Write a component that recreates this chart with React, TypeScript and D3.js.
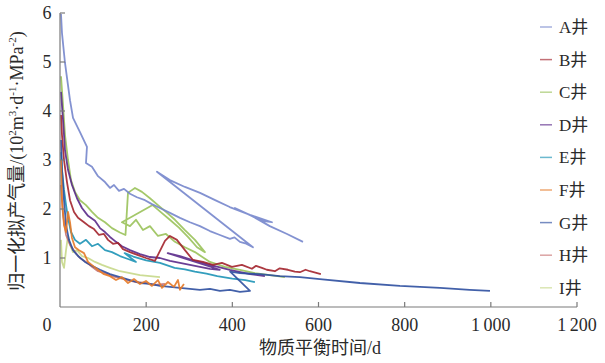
import React from "react";
import * as d3 from "d3";

type P = [number, number];

const wells = ["A井", "B井", "C井", "D井", "E井", "F井", "G井", "H井", "I井"];
const colors = ["#7686cc", "#a3242c", "#9ac25a", "#5a2a8a", "#1d94b6", "#e57a28", "#2d4fa0", "#c77272", "#c6d88a"];

const xTicks = [200, 400, 600, 800, 1000, 1200];
const xTickLabels = ["200", "400", "600", "800", "1\u2009000", "1\u2009200"];
const yTicks = [1, 2, 3, 4, 5, 6];

const wellA: P[] = [
  [2.3, 5.98], [4.6, 5.59], [11.6, 4.98], [23.2, 4.22], [30.2, 3.86], [46.4, 3.57], [62.6, 3.27], [60.3, 2.94],
  [74.2, 2.86], [88.2, 2.67], [104.4, 2.55], [116, 2.43], [125.3, 2.49], [136.9, 2.37], [148.5, 2.41], [162.4, 2.31],
  [178.6, 2.24], [197.2, 2.18], [213.4, 2.1], [232, 2.02], [255.2, 1.92], [278.4, 1.82], [301.6, 1.73], [324.8, 1.65],
  [348, 1.55], [371.2, 1.47], [394.4, 1.39], [405, 1.42], [417.6, 1.33], [430, 1.3], [447.8, 1.22],
  [225, 2.76], [255, 2.59], [290, 2.45], [325, 2.33], [360, 2.18], [394, 2.04], [441, 1.88], [492, 1.73], [469, 1.76],
  [406, 2.02], [445, 1.86], [487, 1.65], [527, 1.49], [564, 1.33],
];

const wellB: P[] = [
  [2.3, 3.92], [4.6, 3.51], [9.3, 3.0], [16.2, 2.55], [23.2, 2.18], [32.5, 1.94], [41.8, 1.82], [55.7, 1.73],
  [67.3, 1.65], [78.9, 1.59], [90.5, 1.47], [102, 1.49], [111.4, 1.37], [123, 1.29], [134.6, 1.31], [146.2, 1.18],
  [162.4, 1.12], [181, 1.06], [199.5, 1.0], [220.4, 0.94], [243.6, 1.35], [255.2, 1.45], [271.4, 1.37], [290, 1.16],
  [308.6, 0.96], [331.8, 0.92], [355, 0.86], [375.8, 0.9], [399, 0.82], [422.2, 0.86], [445.4, 0.78], [455, 0.84],
  [468.6, 0.8], [480, 0.76], [498.8, 0.73], [510, 0.79], [529, 0.76], [545, 0.72], [556.8, 0.71], [570, 0.76],
  [580, 0.73], [605.5, 0.67],
];

const wellC: P[] = [
  [2.3, 4.71], [7, 4.12], [11.6, 3.51], [18.6, 3.0], [25.5, 2.59], [34.8, 2.35], [46.4, 2.18], [60.3, 2.08],
  [74.2, 1.94], [88.2, 1.82], [104.4, 1.73], [120.6, 1.61], [139, 1.52], [152, 1.47],
  [157.8, 2.33], [166, 2.38], [174, 2.43], [190.2, 2.35], [208.8, 2.22], [227.4, 2.08],
  [245.9, 1.94], [266.8, 1.78], [290, 1.57], [313.2, 1.37], [336.4, 1.12],
  [318, 1.22], [298, 1.42], [276, 1.62], [255, 1.78], [236, 1.92], [215, 2.08],
  [143.8, 1.73], [162.4, 1.65], [176.3, 1.78], [192.6, 1.57], [208.8, 1.65], [227.4, 1.45], [245.9, 1.49], [266.8, 1.33],
  [290, 1.22], [313.2, 1.12], [348, 0.92], [382.8, 0.82], [417.6, 0.76], [452.4, 0.69], [487.2, 0.65], [522, 0.61],
];

const wellD: P[] = [
  [2.3, 4.39], [7, 3.82], [11.6, 3.2], [18.6, 2.8], [27.8, 2.49], [39.4, 2.22], [51, 2.02], [65, 1.86],
  [81.2, 1.76], [92.8, 1.61], [104.4, 1.53], [116, 1.43], [130, 1.33], [143.8, 1.24], [162.4, 1.16], [185.6, 1.08],
  [208.8, 1.02], [232, 1.0], [255.2, 0.94], [278.4, 0.9], [301.6, 0.86], [324.8, 0.82], [348, 0.78], [371, 0.76],
  [250, 1.1], [278.4, 1.04], [313, 0.94], [348, 0.86], [394, 0.76], [441, 0.67], [475.6, 0.63],
];

const wellE: P[] = [
  [2.3, 3.16], [4.6, 2.8], [9.3, 2.39], [14, 2.08], [18.6, 1.82], [25.5, 1.53], [34.8, 1.37], [46.4, 1.29],
  [60.3, 1.37], [74.2, 1.24], [88.2, 1.29], [104.4, 1.16], [120.6, 1.12], [139.2, 1.04], [157.8, 0.98], [176.3, 0.92],
  [150, 1.1], [170, 1.03], [200, 0.95], [232, 0.9], [266, 0.8], [290, 0.77], [313, 0.72], [340, 0.68], [365, 0.63],
  [400, 0.58], [430, 0.55], [452.4, 0.51],
];

const wellF: P[] = [
  [2.3, 3.0], [4.6, 2.18], [9.3, 1.67], [14, 1.53], [18.6, 1.94], [23.2, 1.73], [27.8, 1.41], [34.8, 1.22],
  [44.1, 1.16], [55.7, 1.1], [65, 0.92], [76.6, 0.84], [88.2, 0.76], [102, 0.67], [116, 0.63], [130, 0.55],
  [143.8, 0.61], [157.8, 0.49], [171.7, 0.57], [185.6, 0.47], [199.5, 0.53], [213.4, 0.43], [227.4, 0.55], [236.6, 0.39],
  [250.6, 0.51], [264.5, 0.41], [273.8, 0.55], [278.4, 0.35], [287.7, 0.47],
];

const wellG: P[] = [
  [2.3, 3.41], [4.6, 2.8], [9.3, 2.18], [14, 1.67], [20.9, 1.37], [30.2, 1.16], [41.8, 1.04], [58, 0.92],
  [74.2, 0.84], [92.8, 0.76], [116, 0.67], [139.2, 0.61], [162.4, 0.55], [185.6, 0.49], [208.8, 0.47], [232, 0.43],
  [255.2, 0.41], [278.4, 0.39], [301.6, 0.37], [324.8, 0.35], [348, 0.37], [371.2, 0.33], [394.4, 0.35], [417.6, 0.31],
  [441, 0.33],
  [395, 0.72], [417.6, 0.69], [464, 0.67], [510, 0.63], [557, 0.61], [603, 0.57], [696, 0.49], [789, 0.43],
  [882, 0.39], [951, 0.35], [998, 0.33],
];

const wellH: P[] = [
  [2.3, 2.49], [7, 1.88], [14, 1.47], [23.2, 1.27], [34.8, 1.12], [46.4, 1.0], [60.3, 0.92], [74.2, 0.82],
  [88.2, 0.73], [104.4, 0.69], [120.6, 0.63], [139.2, 0.59], [157.8, 0.55], [176.3, 0.51], [197.2, 0.49], [220.4, 0.45],
  [243.6, 0.47],
];

const wellI: P[] = [
  [2.3, 1.37], [4.6, 0.92], [9.3, 0.8], [14, 1.16], [18.6, 1.45], [23.2, 1.27], [30.2, 1.12], [39.4, 1.16],
  [51, 1.04], [65, 1.0], [81.2, 0.92], [97.4, 0.86], [116, 0.8], [139.2, 0.73], [162.4, 0.69], [185.6, 0.65],
  [208.8, 0.63], [232, 0.61],
];

const series: P[][] = [wellA, wellB, wellC, wellD, wellE, wellF, wellG, wellH, wellI];
const drawOrder = [8, 2, 0, 3, 4, 1, 7, 6, 5];

const W = 605;
const H = 363;
const LAT = "'Liberation Serif', 'Noto Sans CJK SC', serif";

export default function App() {
  const x = d3.scaleLinear().domain([0, 1200]).range([60, 577]);
  const y = d3.scaleLinear().domain([0, 6]).range([307, 13]);
  const line = d3
    .line<P>()
    .x((d) => x(d[0]))
    .y((d) => y(d[1]));

  const axisColor = "#7a7a7a";
  const textColor = "#2a2a2a";

  return (
    <svg width={W} height={H} style={{ position: "absolute", left: 0, top: 0, background: "#fff" }} fontFamily={LAT}>
      <rect x={0} y={0} width={W} height={H} fill="#fff" />
      {drawOrder.map((i) => (
        <path
          key={wells[i]}
          d={line(series[i]) || ""}
          fill="none"
          stroke={colors[i]}
          strokeWidth={1.8}
          strokeOpacity={0.9}
          strokeLinejoin="round"
        />
      ))}
      <line x1={x(0)} x2={x(1200)} y1={y(0)} y2={y(0)} stroke={axisColor} strokeWidth={1.2} />
      <line x1={x(0)} x2={x(0)} y1={y(0)} y2={y(6)} stroke={axisColor} strokeWidth={1.2} />
      {xTicks.map((t, i) => (
        <g key={"xt" + t}>
          <line x1={x(t)} x2={x(t)} y1={y(0)} y2={y(0) - 5} stroke={axisColor} strokeWidth={1.2} />
          <text x={x(t)} y={331} textAnchor="middle" fontSize={18} fill={textColor}>
            {xTickLabels[i]}
          </text>
        </g>
      ))}
      <text x={47} y={331} textAnchor="middle" fontSize={18} fill={textColor}>
        0
      </text>
      {yTicks.map((t) => (
        <g key={"yt" + t}>
          <line x1={x(0)} x2={x(0) + 5} y1={y(t)} y2={y(t)} stroke={axisColor} strokeWidth={1.2} />
          <text x={47} y={y(t)} dy="0.35em" textAnchor="middle" fontSize={18} fill={textColor}>
            {t}
          </text>
        </g>
      ))}
      <text x={320} y={354} textAnchor="middle" fontSize={18} fill={textColor}>
        物质平衡时间/d
      </text>
      <text transform="translate(23,161) rotate(-90)" textAnchor="middle" fontSize={18} fill={textColor}>
        归一化拟产气量/(10
        <tspan fontSize={11} dy={-7}>2</tspan>
        <tspan dy={7}>m</tspan>
        <tspan fontSize={11} dy={-7}>3</tspan>
        <tspan dy={7}>·d</tspan>
        <tspan fontSize={11} dy={-7}>-1</tspan>
        <tspan dy={7}>·MPa</tspan>
        <tspan fontSize={11} dy={-7}>-2</tspan>
        <tspan dy={7}>)</tspan>
      </text>
      {wells.map((w, i) => {
        const ly = 27 + i * 32.6;
        return (
          <g key={"lg" + w}>
            <line x1={540} x2={552} y1={ly} y2={ly} stroke={colors[i]} strokeWidth={1.5} strokeOpacity={0.65} />
            <text x={559} y={ly} dy="0.35em" fontSize={17} fill={textColor}>
              {w}
            </text>
          </g>
        );
      })}
    </svg>
  );
}
